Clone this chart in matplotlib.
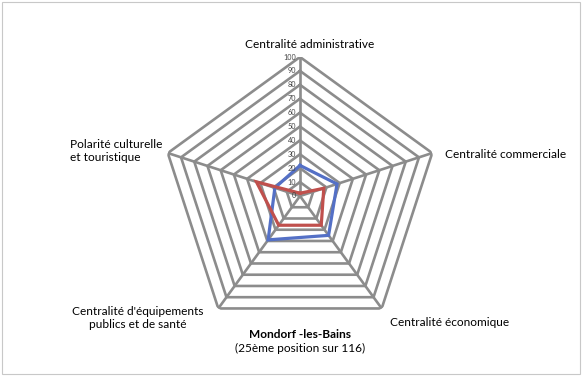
import numpy as np
import matplotlib
matplotlib.use("Agg")
import matplotlib.pyplot as plt
from matplotlib.patches import Rectangle

categories = ["Centralité administrative", "Centralité commerciale", "Centralité économique",
              "Centralité d'équipements\npublics et de santé", "Polarité culturelle\net touristique"]
series_blue = [22, 28, 35, 39, 19]
series_red = [2, 18, 26, 26, 33]
ticks = list(range(0, 101, 10))
title = "Mondorf -les-Bains"
subtitle = "(25ème position sur 116)"

plt.rcParams['font.family'] = ['Lato', 'DejaVu Sans']

W, H = 582, 376
fig = plt.figure(figsize=(W/100, H/100), dpi=100)
fig.patches.append(Rectangle((0.004, 0.006), 0.992, 0.988, transform=fig.transFigure,
                             fill=False, edgecolor='#c8c8c8', lw=0.8))

cx, cy, R = 300, 196, 139
ax = fig.add_axes([(cx-R)/W, (H-cy-R)/H, 2*R/W, 2*R/H], projection='polar')
ax.set_theta_offset(np.pi/2)
ax.set_theta_direction(-1)
n = len(categories)
theta = np.linspace(0, 2*np.pi, n, endpoint=False)
tc = np.concatenate([theta, theta[:1]])

grid = '#8c8c8c'
for t in ticks[1:]:
    ax.plot(tc, [t]*(n+1), color=grid, lw=1.9, zorder=1, solid_joinstyle='miter')
for th in theta:
    ax.plot([th, th], [0, 100], color=grid, lw=1.9, zorder=1)

ax.plot(tc, series_blue + series_blue[:1], color='#5470C6', lw=2.3, zorder=3, solid_joinstyle='miter')
ax.plot(tc, series_red + series_red[:1], color='#C0504D', lw=2.3, zorder=3, solid_joinstyle='miter')

ax.set_ylim(0, 100)
ax.set_xticks([])
ax.set_yticks([])
ax.grid(False)
ax.spines['polar'].set_visible(False)
ax.patch.set_alpha(0)

for t in ticks:
    ax.text(0, t, str(t), fontsize=5.2, color='#444444', ha='right', va='center',
            transform=ax.transData + matplotlib.transforms.ScaledTranslation(-4/100, 0, fig.dpi_scale_trans))

def ft(x, y, s, **kw):
    fig.text(x/W, 1-y/H, s, **kw)

fs = 8.6
ft(310, 45, categories[0], fontsize=fs, ha='center', va='center')
ft(445, 155, categories[1], fontsize=fs, ha='left', va='center')
ft(390, 322, categories[2], fontsize=fs, ha='left', va='center')
ft(138, 318, categories[3], fontsize=fs, ha='center', va='center', linespacing=1.15)
ft(70, 151, categories[4], fontsize=fs, ha='left', va='center', linespacing=1.15)
ft(300, 334, title, fontsize=fs, ha='center', va='center', fontweight='bold')
ft(300, 348, subtitle, fontsize=fs, ha='center', va='center')

fig.savefig('out.png', dpi=100)
